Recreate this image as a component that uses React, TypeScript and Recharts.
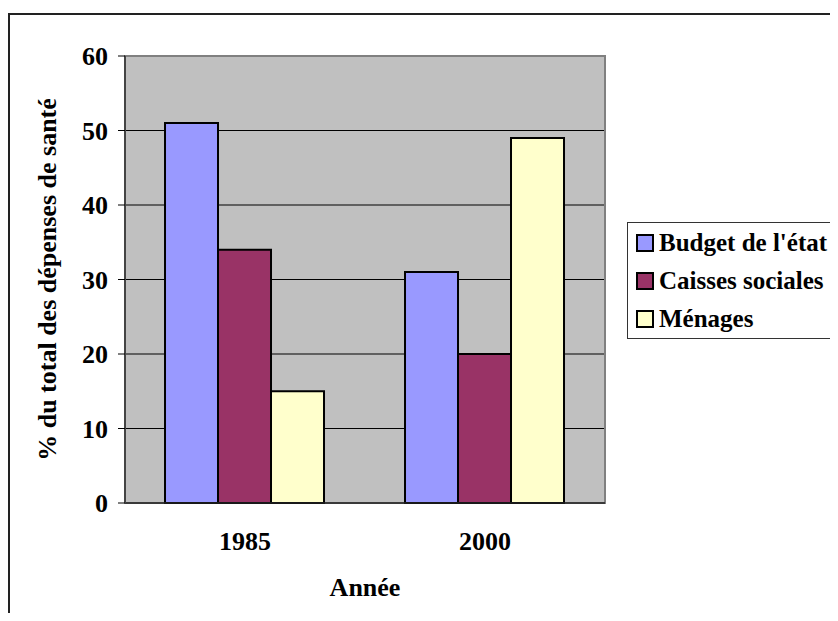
import React from "react"
import { Bar, BarChart, CartesianGrid, Legend, ReferenceArea, XAxis, YAxis } from "recharts"

const categories = ["1985", "2000"]
const budgetEtat = [51, 31]
const caissesSociales = [34, 20]
const menages = [15, 49]
const yTicks = [0, 10, 20, 30, 40, 50, 60]
const seriesNames = ["Budget de l'état", "Caisses sociales", "Ménages"]

const data = categories.map((annee, i) => ({
  annee,
  budget: budgetEtat[i],
  caisses: caissesSociales[i],
  menages: menages[i],
}))

const font = "Liberation Serif"
const textSize = 26

function LegendBox({ payload }) {
  return (
    <div
      style={{
        border: "1px solid #333",
        background: "#fff",
        padding: "1px 0 0 8px",
        width: 230,
        fontFamily: font,
        fontWeight: "bold",
        fontSize: 25,
        color: "#000",
        textAlign: "left",
      }}
    >
      {(payload || []).map((p) => (
        <div key={p.value} style={{ display: "flex", alignItems: "center", height: 38, whiteSpace: "nowrap" }}>
          <span
            style={{
              display: "inline-block",
              flex: "none",
              width: 14,
              height: 14,
              border: "2px solid #000",
              background: p.color,
              marginRight: 5,
            }}
          />
          {p.value}
        </div>
      ))}
    </div>
  )
}

function YTitle({ viewBox }) {
  const cy = viewBox.y + viewBox.height / 2
  return (
    <text
      x={47}
      y={cy}
      transform={`rotate(-90, 47, ${cy})`}
      textAnchor="middle"
      dominantBaseline="central"
      fontFamily={font}
      fontWeight="bold"
      fontSize={textSize}
      fill="#000"
    >
      % du total des dépenses de santé
    </text>
  )
}

export default function App() {
  return (
    <div style={{ margin: -8, width: 838, height: 621, position: "relative", overflow: "hidden", background: "#fff", fontFamily: font }}>
      <div
        style={{
          position: "absolute",
          left: 8,
          top: 13,
          width: 1000,
          height: 1000,
          border: "2px solid #222",
        }}
      />
      <BarChart
        width={838}
        height={621}
        data={data}
        margin={{ top: 56, right: 233, bottom: 18, left: 10 }}
        barCategoryGap="16.67%"
        barGap={0}
        style={{ fontFamily: font, fontWeight: "bold" }}
      >
        <CartesianGrid vertical={false} fill="#C0C0C0" stroke="#000" strokeWidth={1} fillOpacity={1} />
        <XAxis
          xAxisId="edges"
          type="number"
          domain={[0, 2]}
          ticks={[0, 1, 2]}
          height={0}
          axisLine={false}
          tickSize={7}
          tickLine={{ stroke: "#000" }}
          tickFormatter={() => ""}
        />
        <XAxis
          dataKey="annee"
          height={100}
          tickLine={false}
          tickSize={0}
          tickMargin={29}
          axisLine={{ stroke: "#222", strokeWidth: 1.5 }}
          tick={{ fill: "#000", fontSize: textSize, fontFamily: font, fontWeight: "bold" }}
          label={{
            value: "Année",
            position: "insideBottom",
            offset: 7,
            fill: "#000",
            fontSize: textSize,
            fontFamily: font,
            fontWeight: "bold",
          }}
        />
        <YAxis
          width={115}
          domain={[0, 60]}
          ticks={yTicks}
          tickSize={7}
          tickMargin={10}
          tickLine={{ stroke: "#000" }}
          axisLine={{ stroke: "#444", strokeWidth: 2 }}
          tick={{ fill: "#000", fontSize: textSize, fontFamily: font, fontWeight: "bold" }}
          label={{ content: YTitle }}
        />
        <ReferenceArea y1={0} y2={60} fill="none" stroke="#808080" strokeWidth={2} ifOverflow="visible" />
        <Legend
          layout="horizontal"
          verticalAlign="middle"
          align="center"
          wrapperStyle={{ left: 627, top: 222, right: "auto", width: 230 }}
          content={LegendBox}
        />
        <Bar dataKey="budget" name={seriesNames[0]} fill="#9999FF" stroke="#000" strokeWidth={2} isAnimationActive={false} />
        <Bar dataKey="caisses" name={seriesNames[1]} fill="#993366" stroke="#000" strokeWidth={2} isAnimationActive={false} />
        <Bar dataKey="menages" name={seriesNames[2]} fill="#FFFFCC" stroke="#000" strokeWidth={2} isAnimationActive={false} />
      </BarChart>
    </div>
  )
}
